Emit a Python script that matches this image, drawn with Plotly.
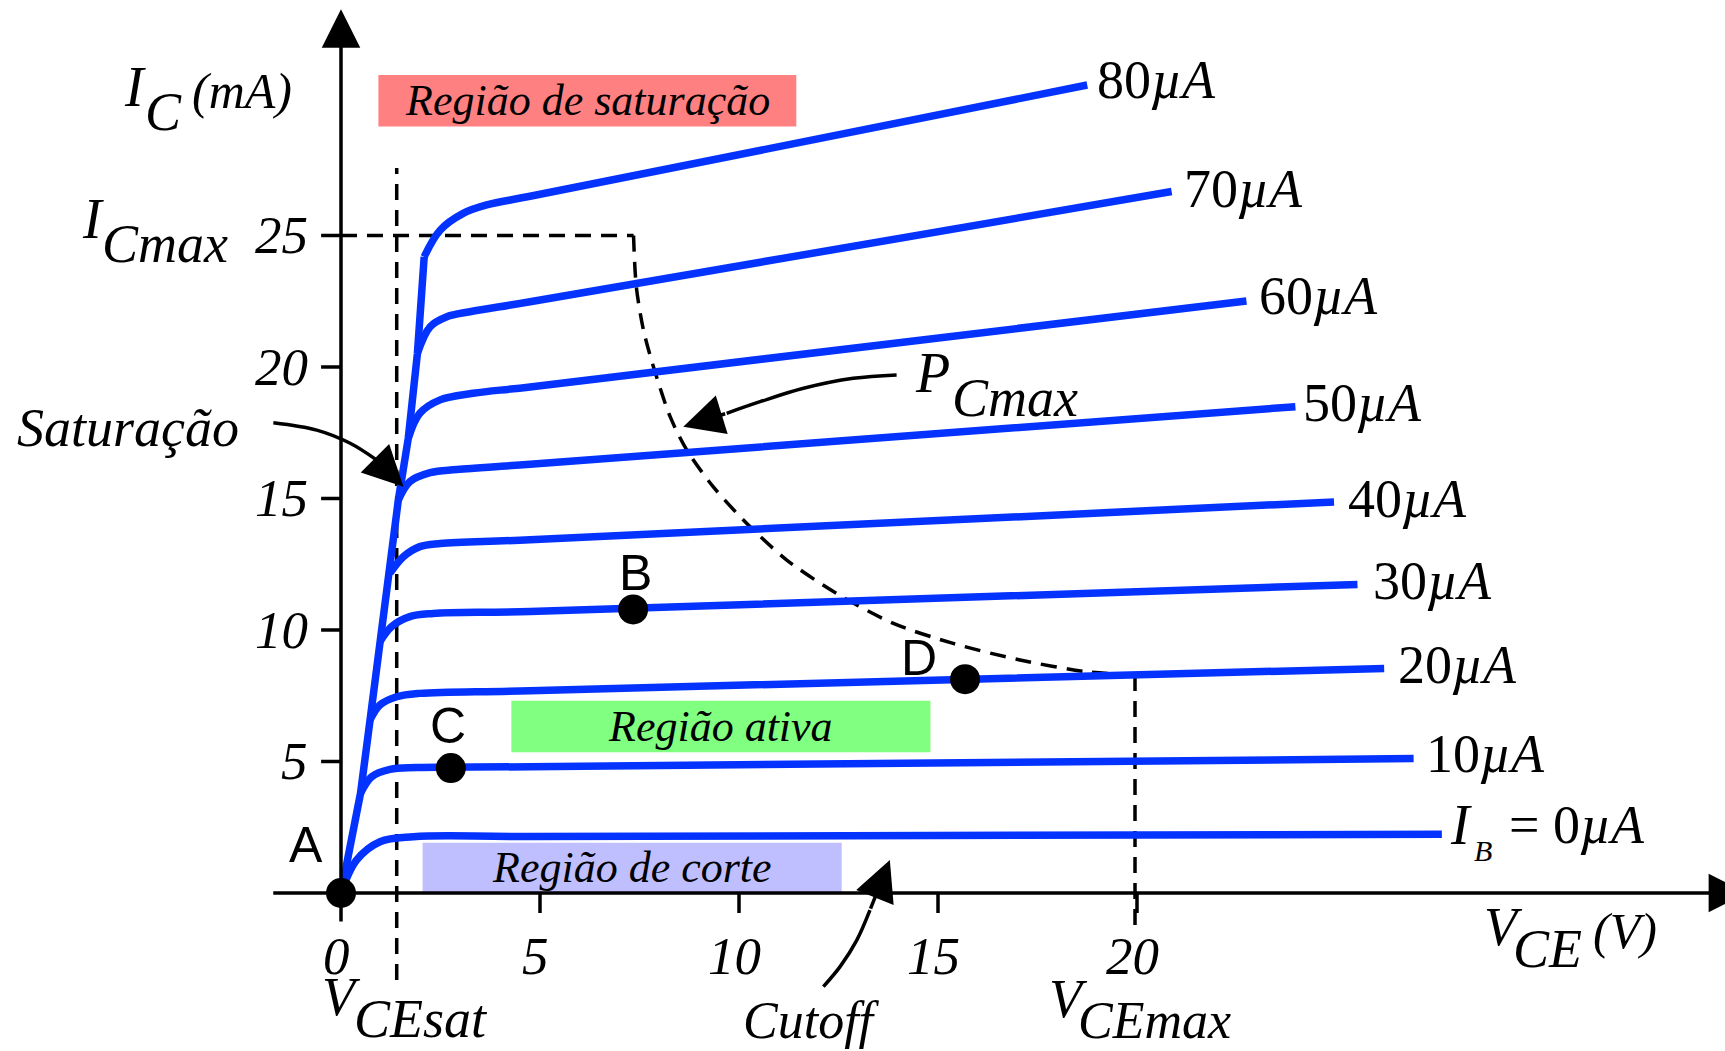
import plotly.graph_objects as go

# ---------------- data ----------------
W, H = 1725, 1051
X_RANGE = [-8.568, 34.774]   # V_CE (V)
Y_RANGE = [-6.008, 33.954]   # I_C (mA)

ib_values = [0, 10, 20, 30, 40, 50, 60, 70, 80]

# saturation (steep) line through the branch points of every curve
sat_v = [0.0, 0.49, 0.73, 0.98, 1.23, 1.44, 1.69, 1.92, 2.09]
sat_i = [0.0, 3.79, 6.58, 9.56, 12.16, 14.94, 17.29, 20.52, 24.19]

# characteristic curves: branch point, knee points, end point
curve_v = {
    0:  [0.00, 0.39, 0.98, 1.82, 4.75, 27.66],
    10: [0.49, 0.77, 1.23, 1.90, 4.75, 26.95],
    20: [0.73, 0.98, 1.40, 1.98, 4.75, 26.21],
    30: [0.98, 1.27, 1.73, 2.32, 4.75, 25.54],
    40: [1.23, 1.57, 1.98, 2.49, 4.75, 24.95],
    50: [1.44, 1.73, 2.24, 2.91, 4.75, 23.98],
    60: [1.69, 1.98, 2.49, 3.32, 4.75, 22.75],
    70: [1.92, 2.24, 2.66, 3.24, 4.75, 20.87],
    80: [2.09, 2.49, 3.07, 3.66, 4.75, 18.75],
}
curve_i = {
    0:  [0.00, 1.25, 1.95, 2.14, 2.15, 2.23],
    10: [3.79, 4.42, 4.70, 4.77, 4.80, 5.11],
    20: [6.58, 7.15, 7.46, 7.59, 7.69, 8.54],
    30: [9.56, 10.13, 10.51, 10.63, 10.70, 11.73],
    40: [12.16, 12.79, 13.17, 13.29, 13.43, 14.87],
    50: [14.94, 15.64, 15.98, 16.10, 16.30, 18.49],
    60: [17.29, 18.24, 18.75, 19.00, 19.24, 22.51],
    70: [20.52, 21.53, 21.91, 22.10, 22.48, 26.67],
    80: [24.19, 25.20, 25.84, 26.16, 26.49, 30.72],
}
# curve end labels (left edge, vertical centre)
curve_label_v = {0: 27.82, 10: 27.20, 20: 26.50, 30: 25.88, 40: 25.24,
                 50: 24.13, 60: 23.02, 70: 21.14, 80: 18.94}
curve_label_i = {0: 2.59, 10: 5.29, 20: 8.68, 30: 11.86, 40: 14.98,
                 50: 18.64, 60: 22.71, 70: 26.76, 80: 30.91}

# operating points
point_names = ["A", "B", "C", "D"]
point_v = [0.00, 7.34, 2.76, 15.68]
point_i = [0.00, 10.78, 4.75, 8.13]
point_label_v = [-0.88, 7.39, 2.68, 14.51]
point_label_i = [1.83, 12.15, 6.36, 8.92]

# region boxes
region_names = ["Região de saturação", "Região ativa", "Região de corte"]
region_v0 = [0.94, 4.28, 2.05]
region_v1 = [11.44, 14.81, 12.58]
region_i0 = [29.14, 5.35, 0.00]
region_i1 = [31.10, 7.31, 1.91]
region_colors = ["#ff8080", "#80ff80", "#bfbfff"]

# limits
vcesat_v = 1.40
vcesat_i = [-3.31, 27.57]
icmax_i = 25.0
icmax_v = [0.0, 7.35]
pcmax_v = [7.35, 7.42, 7.60, 7.85, 8.27, 8.69, 9.35, 10.19, 11.20, 12.45,
           13.88, 15.38, 17.06, 18.74, 19.95]
pcmax_i = [25.00, 23.05, 21.40, 20.01, 18.11, 16.84, 15.45, 14.06, 12.66,
           11.39, 10.25, 9.49, 8.86, 8.41, 8.29]
vcemax_v = 19.95
vcemax_i = [8.29, -1.41]

# curved pointer arrows (last point = arrow tip)
sat_arrow_v = [-1.70, -0.61, 0.23, 0.90, 1.57]
sat_arrow_i = [17.88, 17.60, 17.10, 16.46, 15.45]
pc_arrow_v = [13.96, 12.87, 11.62, 10.53, 9.69, 8.60]
pc_arrow_i = [19.70, 19.57, 19.19, 18.68, 18.24, 17.73]
cut_arrow_v = [12.12, 12.54, 12.96, 13.29, 13.79]
cut_arrow_i = [-3.56, -2.80, -1.79, -0.65, 1.25]

# axes
x_axis_v = [-1.74, 35.33]
y_axis_i = [-1.14, 33.60]
x_ticks = [5, 10, 15, 20]
x_tick_labels = [0, 5, 10, 15, 20]
y_ticks = [5, 10, 15, 20, 25]

# free text: (text, V, I, size)
texts = [
    ("<i>I</i>", -5.51, 30.63, 56),
    ("<i>C</i>", -4.97, 29.71, 54),
    ("<i>(mA)</i>", -3.80, 30.50, 50),
    ("<i>I</i>", -6.56, 25.64, 56),
    ("<i>Cmax</i>", -6.06, 24.68, 54),
    ("<i>Saturação</i>", -8.20, 17.68, 54),
    ("<i>P</i>", 14.38, 19.76, 56),
    ("<i>Cmax</i>", 15.30, 18.84, 54),
    ("<i>Cutoff</i>", 10.06, -4.83, 52),
    ("<i>V</i>", -0.53, -3.95, 54),
    ("<i>CEsat</i>", 0.28, -4.80, 54),
    ("<i>V</i>", 17.73, -4.02, 54),
    ("<i>CEmax</i>", 18.46, -4.84, 52),
    ("<i>V</i>", 28.66, -1.28, 54),
    ("<i>CE</i>", 29.40, -2.13, 54),
    ("<i>(V)</i>", 31.40, -1.45, 50),
    ("<i>B</i>", 28.41, 1.60, 30),
]

# ---------------- figure ----------------
BLUE = "#0433ff"
SERIF = "Liberation Serif, Times New Roman, serif"
SANS = "Liberation Sans, Arial, sans-serif"
DASH = "16px,10px"

fig = go.Figure()

# region boxes
for name, v0, v1, i0, i1, col in zip(region_names, region_v0, region_v1,
                                      region_i0, region_i1, region_colors):
    fig.add_shape(type="rect", xref="x", yref="y", x0=v0, x1=v1, y0=i0, y1=i1,
                  fillcolor=col, line_width=0, layer="below")
    fig.add_annotation(x=(v0 + v1) / 2, y=(i0 + i1) / 2, text=f"<i>{name}</i>",
                       showarrow=False, xanchor="center", yanchor="middle",
                       font=dict(family=SERIF, size=44, color="black"))

# dashed limit lines
dash_line = dict(color="black", width=3.5, dash=DASH)
fig.add_trace(go.Scatter(x=[vcesat_v, vcesat_v], y=vcesat_i, mode="lines",
                         line=dash_line, hoverinfo="skip"))
fig.add_trace(go.Scatter(x=icmax_v, y=[icmax_i, icmax_i], mode="lines",
                         line=dash_line, hoverinfo="skip"))
fig.add_trace(go.Scatter(x=pcmax_v, y=pcmax_i, mode="lines",
                         line=dict(color="black", width=3.5, dash=DASH,
                                   shape="spline", smoothing=0.8),
                         hoverinfo="skip"))
fig.add_trace(go.Scatter(x=[vcemax_v, vcemax_v], y=vcemax_i, mode="lines",
                         line=dash_line, hoverinfo="skip"))

# axes lines with arrow heads
fig.add_annotation(x=x_axis_v[1], y=0, ax=x_axis_v[0], ay=0, xref="x", yref="y",
                   axref="x", ayref="y", text="", showarrow=True, arrowhead=2,
                   arrowsize=2.2, arrowwidth=3.5, arrowcolor="black")
fig.add_annotation(x=0, y=y_axis_i[1], ax=0, ay=y_axis_i[0], xref="x", yref="y",
                   axref="x", ayref="y", text="", showarrow=True, arrowhead=2,
                   arrowsize=2.2, arrowwidth=3.5, arrowcolor="black")

# ticks
for t in x_ticks:
    fig.add_shape(type="line", xref="x", yref="y", x0=t, x1=t, y0=0, y1=-0.76,
                  line=dict(color="black", width=3.5))
for t in y_ticks:
    fig.add_shape(type="line", xref="x", yref="y", x0=-0.5, x1=0, y0=t, y1=t,
                  line=dict(color="black", width=3.5))
for t in x_tick_labels:
    fig.add_annotation(x=t, y=-2.4, text=f"<i>{t}</i>", showarrow=False,
                       xanchor="center", yanchor="middle", xshift=-5,
                       font=dict(family=SERIF, size=53, color="black"))
for t in y_ticks:
    fig.add_annotation(x=0, y=t, text=f"<i>{t}</i>", showarrow=False,
                       xanchor="right", yanchor="middle", xshift=-31,
                       font=dict(family=SERIF, size=53, color="black"))

# saturation line
fig.add_trace(go.Scatter(x=sat_v, y=sat_i, mode="lines",
                         line=dict(color=BLUE, width=7.5), hoverinfo="skip"))
# characteristic curves
for ib in ib_values:
    fig.add_trace(go.Scatter(x=curve_v[ib], y=curve_i[ib], mode="lines",
                             line=dict(color=BLUE, width=7.5, shape="spline",
                                       smoothing=1.0),
                             hoverinfo="skip"))
    txt = f"{ib}<i>µA</i>" if ib > 0 else "<i>I</i>"
    fig.add_annotation(x=curve_label_v[ib], y=curve_label_i[ib], text=txt,
                       showarrow=False, xanchor="left", yanchor="middle",
                       font=dict(family=SERIF, size=54 if ib > 0 else 56,
                                 color="black"))
# remaining part of the I_B = 0 label
fig.add_annotation(x=29.29, y=2.59, text="= 0<i>µA</i>", showarrow=False,
                   xanchor="left", yanchor="middle",
                   font=dict(family=SERIF, size=54, color="black"))

# curved pointer arrows
for av, ai in [(sat_arrow_v, sat_arrow_i), (pc_arrow_v, pc_arrow_i),
               (cut_arrow_v, cut_arrow_i)]:
    fig.add_trace(go.Scatter(x=av[:-1], y=ai[:-1], mode="lines",
                             line=dict(color="black", width=3.5, shape="spline"),
                             hoverinfo="skip"))
    fig.add_annotation(x=av[-1], y=ai[-1], ax=av[-2], ay=ai[-2], xref="x",
                       yref="y", axref="x", ayref="y", text="", showarrow=True,
                       arrowhead=2, arrowsize=2.3, arrowwidth=3.5,
                       arrowcolor="black")

# operating points
fig.add_trace(go.Scatter(x=point_v, y=point_i, mode="markers",
                         marker=dict(color="black", size=30), hoverinfo="skip",
                         cliponaxis=False))
for name, lv, li in zip(point_names, point_label_v, point_label_i):
    fig.add_annotation(x=lv, y=li, text=name, showarrow=False,
                       xanchor="center", yanchor="middle",
                       font=dict(family=SANS, size=50, color="black"))

# free text
for txt, tv, ti, sz in texts:
    fig.add_annotation(x=tv, y=ti, text=txt, showarrow=False, xanchor="left",
                       yanchor="middle",
                       font=dict(family=SERIF, size=sz, color="black"))

fig.update_layout(
    width=W, height=H, margin=dict(l=0, r=0, t=0, b=0, pad=0),
    paper_bgcolor="white", plot_bgcolor="white", showlegend=False,
    xaxis=dict(range=X_RANGE, visible=False, fixedrange=True),
    yaxis=dict(range=Y_RANGE, visible=False, fixedrange=True),
)

fig.write_html(
    "out.html",
    config={"displayModeBar": False},
    post_script="document.body.style.margin='0';document.body.style.overflow='hidden';",
)
